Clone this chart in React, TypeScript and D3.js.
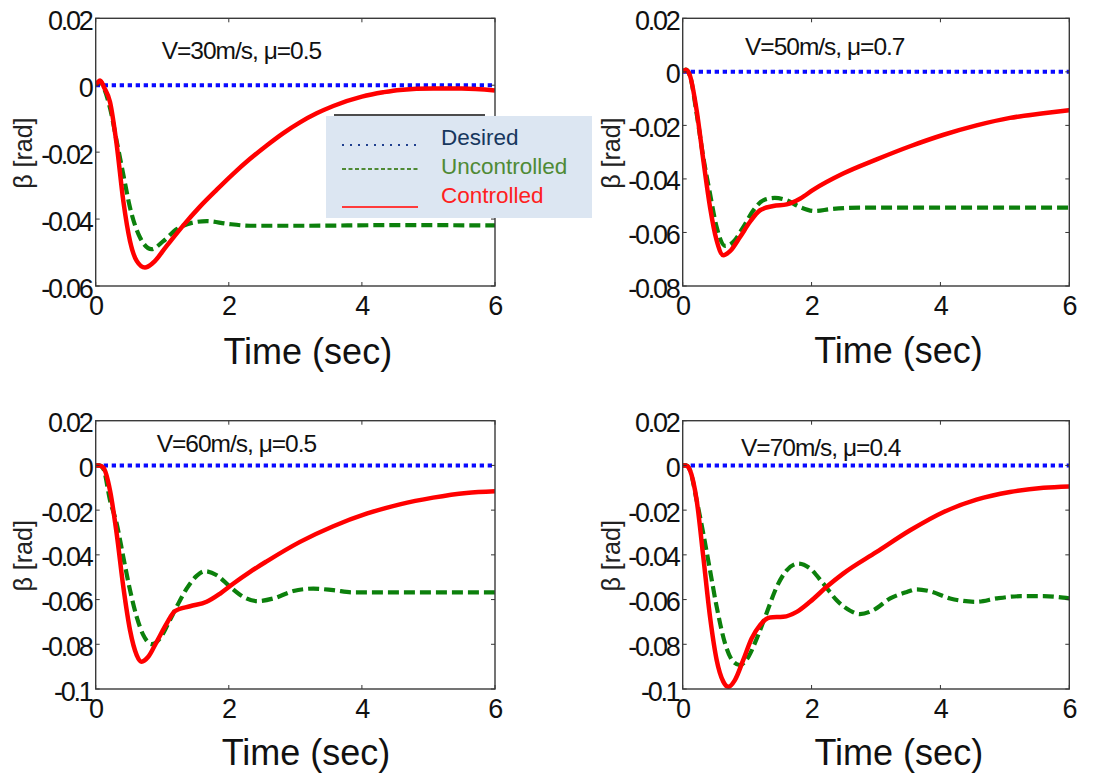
import React from "react";
import * as d3 from "d3";

// ---------- data ----------
const xTicks = [0, 2, 4, 6];
const yTicksA = [0.02, 0, -0.02, -0.04, -0.06];
const yTicksB = [0.02, 0, -0.02, -0.04, -0.06, -0.08];
const yTicksC = [0.02, 0, -0.02, -0.04, -0.06, -0.08, -0.1];

const titles = ["V=30m/s, \u03bc=0.5", "V=50m/s, \u03bc=0.7", "V=60m/s, \u03bc=0.5", "V=70m/s, \u03bc=0.4"];
const legendLabels = ["Desired", "Uncontrolled", "Controlled"];

const desiredT = [0, 6];
const desiredB = [0, 0];

const p1CtrlT = [0, 0.03, 0.065, 0.13, 0.215, 0.315, 0.415, 0.516, 0.616, 0.74, 0.866, 1.067, 1.32, 1.57, 1.82, 2.07, 2.32, 2.57, 2.82, 3.07, 3.32, 3.57, 4.0, 4.32, 4.57, 5.07, 5.5, 6];
const p1CtrlB = [0, 0.0008, 0.0014, -0.0008, -0.005, -0.0177, -0.0346, -0.0466, -0.0525, -0.0545, -0.053, -0.048, -0.0418, -0.0362, -0.0312, -0.0264, -0.022, -0.018, -0.0143, -0.0111, -0.0084, -0.0062, -0.0034, -0.0021, -0.0014, -0.001, -0.001, -0.0016];
const p1UncT = [0, 0.03, 0.065, 0.13, 0.215, 0.315, 0.415, 0.516, 0.666, 0.84, 1.016, 1.22, 1.47, 1.67, 1.97, 2.32, 3.07, 4.5, 6];
const p1UncB = [0, 0.0008, 0.0012, -0.0012, -0.0068, -0.0167, -0.0267, -0.0366, -0.0455, -0.049, -0.0466, -0.043, -0.041, -0.0406, -0.0414, -0.042, -0.042, -0.0418, -0.0419];

const p2CtrlT = [0, 0.05, 0.114, 0.217, 0.32, 0.424, 0.527, 0.63, 0.735, 0.89, 1.045, 1.2, 1.407, 1.614, 1.82, 2.03, 2.49, 3.01, 3.53, 4.05, 4.56, 5.08, 5.6, 6];
const p2CtrlB = [0, 0.0008, -0.0015, -0.0145, -0.033, -0.0505, -0.063, -0.0685, -0.067, -0.0617, -0.056, -0.0517, -0.0501, -0.0495, -0.0474, -0.044, -0.038, -0.0327, -0.0278, -0.0235, -0.02, -0.0172, -0.0155, -0.0143];
const p2UncT = [0, 0.05, 0.114, 0.217, 0.32, 0.424, 0.527, 0.657, 0.786, 0.94, 1.097, 1.25, 1.43, 1.614, 1.82, 2.05, 2.29, 2.75, 4, 6];
const p2UncB = [0, 0.0008, -0.0015, -0.0157, -0.032, -0.0455, -0.058, -0.065, -0.0635, -0.058, -0.0517, -0.048, -0.0471, -0.048, -0.0505, -0.052, -0.0513, -0.0507, -0.0507, -0.0507];

const p3CtrlT = [0, 0.05, 0.115, 0.215, 0.315, 0.415, 0.516, 0.616, 0.69, 0.79, 0.916, 1.067, 1.19, 1.417, 1.667, 1.87, 2.07, 2.32, 2.57, 3.07, 3.57, 4.07, 4.57, 5.07, 5.57, 6];
const p3CtrlB = [0, 0, -0.001, -0.0112, -0.0305, -0.0543, -0.0737, -0.0848, -0.0878, -0.0856, -0.0789, -0.0707, -0.0652, -0.063, -0.061, -0.0573, -0.0528, -0.0476, -0.0429, -0.0342, -0.0272, -0.0216, -0.0174, -0.0144, -0.0123, -0.0115];
const p3UncT = [0, 0.05, 0.115, 0.215, 0.315, 0.415, 0.516, 0.616, 0.716, 0.84, 0.966, 1.09, 1.217, 1.367, 1.517, 1.64, 1.82, 2.02, 2.22, 2.42, 2.67, 2.97, 3.27, 3.57, 3.87, 4.57, 6];
const p3UncB = [0, 0, -0.0015, -0.0156, -0.026, -0.041, -0.0558, -0.0677, -0.0759, -0.0799, -0.0774, -0.0707, -0.0632, -0.0551, -0.0494, -0.0473, -0.0491, -0.0543, -0.0588, -0.0607, -0.0595, -0.0562, -0.0551, -0.0558, -0.0568, -0.0568, -0.0568];

const p4CtrlT = [0, 0.05, 0.114, 0.217, 0.32, 0.424, 0.527, 0.63, 0.71, 0.81, 0.94, 1.07, 1.2, 1.355, 1.56, 1.77, 1.976, 2.235, 2.49, 3.01, 3.53, 4.05, 4.56, 5.08, 5.6, 6];
const p4CtrlB = [0, 0, -0.0022, -0.0156, -0.041, -0.0677, -0.087, -0.0967, -0.099, -0.096, -0.087, -0.0774, -0.0714, -0.068, -0.0677, -0.0655, -0.061, -0.0543, -0.0484, -0.0387, -0.029, -0.0208, -0.0153, -0.0119, -0.01, -0.0094];
const p4UncT = [0, 0.05, 0.114, 0.217, 0.32, 0.424, 0.527, 0.657, 0.786, 0.89, 1.02, 1.15, 1.3, 1.46, 1.614, 1.795, 1.976, 2.18, 2.39, 2.6, 2.75, 2.96, 3.22, 3.48, 3.63, 3.84, 4.15, 4.56, 4.87, 5.24, 5.6, 6];
const p4UncB = [0, 0, -0.0022, -0.0156, -0.0305, -0.0469, -0.0632, -0.0796, -0.0878, -0.0893, -0.0856, -0.0774, -0.0662, -0.0543, -0.0469, -0.0439, -0.0461, -0.0528, -0.0603, -0.065, -0.0665, -0.0647, -0.0595, -0.0566, -0.0554, -0.0563, -0.0595, -0.061, -0.0595, -0.0585, -0.0585, -0.0595];

// ---------- layout ----------
const panels = [
  { l: 95.7, r: 495, t: 18.3, b: 286, yTicks: yTicksA, title: titles[0], tx: 161.7, ty: 59.3, xlx: 307.8, xly: 364, ylx: 32,
    ctrl: [p1CtrlT, p1CtrlB], unc: [p1UncT, p1UncB] },
  { l: 682.7, r: 1069.3, t: 18.3, b: 286, yTicks: yTicksB, title: titles[1], tx: 745, ty: 55, xlx: 898.5, xly: 362.5, ylx: 620,
    ctrl: [p2CtrlT, p2CtrlB], unc: [p2UncT, p2UncB] },
  { l: 95.7, r: 495, t: 420.7, b: 689, yTicks: yTicksC, title: titles[2], tx: 156.7, ty: 452.3, xlx: 306, xly: 765, ylx: 32,
    ctrl: [p3CtrlT, p3CtrlB], unc: [p3UncT, p3UncB] },
  { l: 682.7, r: 1069.3, t: 420.7, b: 689, yTicks: yTicksC, title: titles[3], tx: 741, ty: 455.7, xlx: 898.8, xly: 765, ylx: 620,
    ctrl: [p4CtrlT, p4CtrlB], unc: [p4UncT, p4UncB] },
];

const FONT = "'Liberation Sans', Arial, Helvetica, sans-serif";
const fmt = (v: number) => (Math.abs(v) < 1e-9 ? "0" : String(+v.toFixed(2)));

function Panel({ p, idx }: { p: any; idx: number }) {
  const x = d3.scaleLinear().domain([0, 6]).range([p.l, p.r]);
  const yMin = p.yTicks[p.yTicks.length - 1];
  const y = d3.scaleLinear().domain([yMin, 0.02]).range([p.b, p.t]);
  const line = (ts: number[], bs: number[]) =>
    d3.line<number>().x((_, i) => x(ts[i])).y((d) => y(d)).curve(d3.curveMonotoneX)(bs) || "";
  const clipId = `clip${idx}`;
  const tl = 4;
  return (
    <g>
      <defs>
        <clipPath id={clipId}>
          <rect x={p.l} y={p.t - 3} width={p.r - p.l} height={p.b - p.t + 3} />
        </clipPath>
      </defs>
      <g clipPath={`url(#${clipId})`}>
        <path d={line(desiredT, desiredB)} fill="none" stroke="#0a0aff" strokeWidth={4} strokeDasharray="4.3 3.7" />
        <path d={line(p.unc[0], p.unc[1])} fill="none" stroke="#0c800c" strokeWidth={4.2} strokeDasharray="11 5" />
        <path d={line(p.ctrl[0], p.ctrl[1])} fill="none" stroke="#ff0000" strokeWidth={4.5} strokeLinejoin="round" />
      </g>
      {xTicks.map((v) => (
        <g key={"xt" + v}>
          <line x1={x(v)} x2={x(v)} y1={p.b} y2={p.b - tl} stroke="#333" strokeWidth={1} />
          <line x1={x(v)} x2={x(v)} y1={p.t} y2={p.t + tl} stroke="#333" strokeWidth={1} />
          <text x={x(v)} y={p.b + 29} textAnchor="middle" fontSize={27} letterSpacing={-1.5} fill="#111" fontFamily={FONT}>
            {fmt(v)}
          </text>
        </g>
      ))}
      {p.yTicks.map((v: number) => (
        <g key={"yt" + v}>
          <line x1={p.l} x2={p.l + tl} y1={y(v)} y2={y(v)} stroke="#333" strokeWidth={1} />
          <line x1={p.r} x2={p.r - tl} y1={y(v)} y2={y(v)} stroke="#333" strokeWidth={1} />
          <text x={p.l - 4} y={y(v) + 11.5} textAnchor="end" fontSize={27} letterSpacing={-2.2} fill="#111" fontFamily={FONT}>
            {fmt(v)}
          </text>
        </g>
      ))}
      <rect x={p.l} y={p.t} width={p.r - p.l} height={p.b - p.t} fill="none" stroke="#3a3a3a" strokeWidth={1.4} />
      <text x={p.tx} y={p.ty} fontSize={24.5} letterSpacing={-1} fill="#111" fontFamily={FONT}>
        {p.title}
      </text>
      <text x={p.xlx} y={p.xly} textAnchor="middle" fontSize={36} fill="#111" fontFamily={FONT}>
        Time (sec)
      </text>
      <text
        transform={`translate(${p.ylx},${(p.t + p.b) / 2 + 1}) rotate(-90)`}
        textAnchor="middle"
        fontSize={25}
        fill="#222"
        fontFamily={FONT}
      >
        {"\u03b2 [rad]"}
      </text>
    </g>
  );
}

function Legend() {
  const lx0 = 342, lx1 = 418;
  const rows = [
    { label: legendLabels[0], color: "#17375e", line: "#1f3f8f", dash: "2 6", ly: 145, ty: 145, w: 2 },
    { label: legendLabels[1], color: "#4f8a35", line: "#4f8a35", dash: "4 2.5", ly: 169, ty: 174, w: 1.8 },
    { label: legendLabels[2], color: "#ff2020", line: "#ff3b3b", dash: "", ly: 207, ty: 203, w: 2.2 },
  ];
  return (
    <g>
      <line x1={334} x2={485} y1={115} y2={115} stroke="#111" strokeWidth={1.3} />
      <rect x={326} y={116} width={266} height={102} fill="#dce6f2" />
      {rows.map((r) => (
        <g key={r.label}>
          <line x1={lx0} x2={lx1} y1={r.ly} y2={r.ly} stroke={r.line} strokeWidth={r.w} strokeDasharray={r.dash || undefined} />
          <text x={441} y={r.ty} fontSize={22.5} fill={r.color} fontFamily={FONT}>
            {r.label}
          </text>
        </g>
      ))}
    </g>
  );
}

export default function App() {
  return (
    <svg width={1099} height={778} style={{ position: "absolute", left: 0, top: 0, background: "#fff" }}>
      <rect width={1099} height={778} fill="#fff" />
      {panels.map((p, i) => (
        <Panel key={i} p={p} idx={i} />
      ))}
      <Legend />
    </svg>
  );
}
